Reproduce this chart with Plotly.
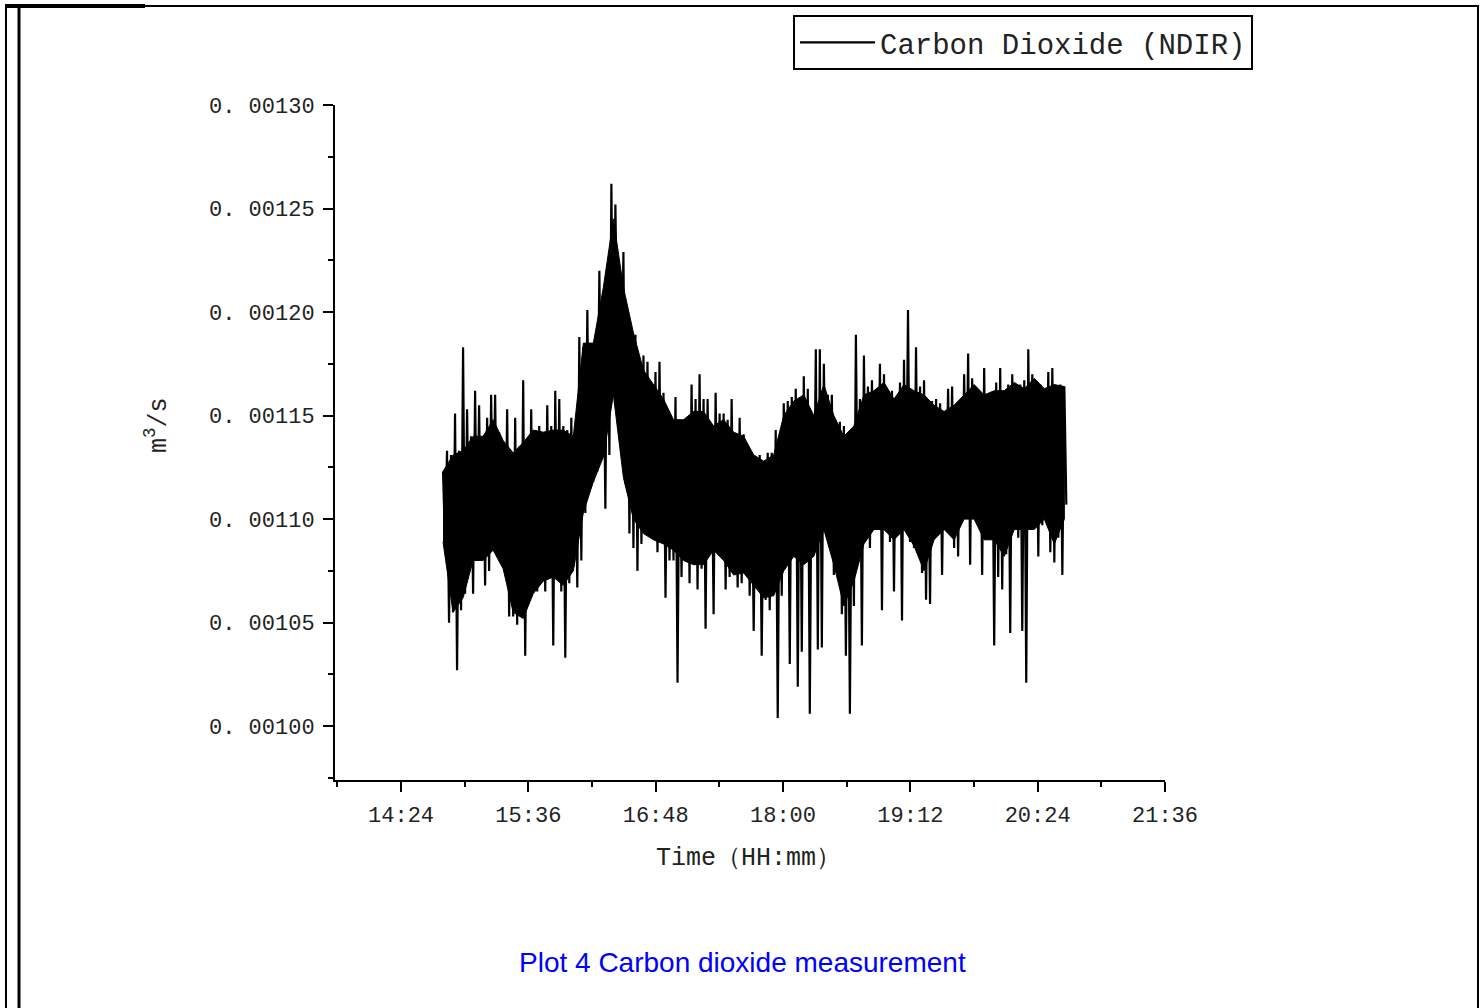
import datetime as dt
import plotly.graph_objects as go

# ---------------- data ----------------
# Upper / lower extremes of the oscillating CO2 flow signal, in 1e-6 m^3/s,
# one pair per sampling cycle, from 14:47:45 onward.
upper_e6 = [
    1123, 1133, 1131, 1151, 1133, 1183, 1153, 1140, 1162, 1155,
    1140, 1149, 1160, 1160, 1142, 1136, 1153, 1125, 1149, 1135,
    1167, 1138, 1153, 1139, 1145, 1135, 1155, 1145, 1162, 1158,
    1145, 1143, 1149, 1135, 1188, 1183, 1201, 1179, 1184, 1220,
    1196, 1222, 1262, 1252, 1219, 1229, 1199, 1188, 1189, 1170,
    1179, 1176, 1165, 1171, 1176, 1161, 1150, 1145, 1159, 1146,
    1148, 1148, 1165, 1158, 1170, 1158, 1158, 1142, 1161, 1151,
    1151, 1148, 1158, 1133, 1149, 1141, 1133, 1132, 1129, 1131,
    1127, 1132, 1132, 1143, 1138, 1156, 1157, 1159, 1163, 1159,
    1169, 1163, 1149, 1182, 1182, 1175, 1160, 1160, 1131, 1147,
    1145, 1139, 1139, 1189, 1158, 1179, 1164, 1167, 1160, 1175,
    1170, 1159, 1162, 1155, 1166, 1177, 1201, 1151, 1183, 1164,
    1167, 1142, 1157, 1158, 1156, 1150, 1163, 1164, 1154, 1149,
    1170, 1180, 1168, 1162, 1153, 1173, 1158, 1158, 1166, 1173,
    1161, 1165, 1170, 1164, 1165, 1167, 1182, 1170, 1165, 1165,
    1162, 1171, 1173, 1161, 1165, 1164,
]
lower_e6 = [
    1089, 1050, 1055, 1027, 1056, 1064, 1084, 1064, 1083, 1081,
    1068, 1075, 1094, 1082, 1079, 1074, 1053, 1053, 1049, 1053,
    1034, 1061, 1067, 1065, 1076, 1065, 1076, 1039, 1074, 1065,
    1033, 1069, 1077, 1067, 1080, 1103, 1115, 1118, 1123, 1133,
    1105, 1131, 1159, 1181, 1151, 1117, 1093, 1086, 1075, 1088,
    1095, 1095, 1094, 1084, 1090, 1062, 1080, 1080, 1021, 1072,
    1087, 1069, 1093, 1066, 1076, 1047, 1093, 1054, 1093, 1097,
    1066, 1072, 1081, 1067, 1069, 1078, 1063, 1046, 1074, 1034,
    1061, 1056, 1065, 1004, 1063, 1090, 1030, 1097, 1019, 1036,
    1080, 1006, 1090, 1037, 1038, 1112, 1103, 1073, 1080, 1054,
    1034, 1006, 1058, 1087, 1039, 1090, 1086, 1096, 1102, 1056,
    1094, 1089, 1065, 1096, 1051, 1097, 1089, 1086, 1085, 1074,
    1061, 1059, 1091, 1104, 1073, 1108, 1102, 1086, 1082, 1100,
    1104, 1078, 1116, 1109, 1073, 1090, 1102, 1039, 1072, 1066,
    1083, 1045, 1100, 1091, 1046, 1021, 1099, 1105, 1082, 1097,
    1108, 1084, 1079, 1091, 1073, 1107,
]
# Edges of the dense (solid black) part of the signal, in 1e-6 m^3/s,
# read every 5 samples from the same start time.
core_upper_e6 = [
    1123, 1131, 1133, 1140, 1140, 1148, 1138, 1132, 1137, 1143,
    1142, 1143, 1143, 1140, 1185, 1185, 1212, 1245, 1212, 1190,
    1172, 1165, 1158, 1148, 1148, 1152, 1152, 1145, 1148, 1142,
    1140, 1131, 1128, 1131, 1150, 1157, 1160, 1150, 1165, 1150,
    1140, 1145, 1160, 1162, 1166, 1158, 1165, 1162, 1160, 1155,
    1152, 1155, 1160, 1165, 1160, 1162, 1162, 1166, 1163, 1168,
    1163, 1165, 1164,
]
core_lower_e6 = [
    1089, 1055, 1062, 1080, 1080, 1085, 1076, 1055, 1052, 1064,
    1070, 1072, 1068, 1075, 1103, 1118, 1130, 1160, 1120, 1100,
    1093, 1090, 1088, 1085, 1080, 1078, 1078, 1085, 1080, 1073,
    1074, 1068, 1062, 1063, 1075, 1082, 1078, 1082, 1095, 1078,
    1058, 1070, 1088, 1095, 1095, 1090, 1095, 1087, 1075, 1090,
    1095, 1090, 1100, 1100, 1090, 1090, 1082, 1095, 1095, 1095,
    1100, 1088, 1100,
]
start_time = dt.datetime(2021, 1, 1, 14, 47, 45)
sample_seconds = 68
core_every = 5  # samples between core-edge readings

x_tick_text = ["14:24", "15:36", "16:48", "18:00", "19:12", "20:24", "21:36"]
y_tick_vals = [0.00100, 0.00105, 0.00110, 0.00115, 0.00120, 0.00125, 0.00130]
y_tick_text = ["0. 00100", "0. 00105", "0. 00110", "0. 00115",
               "0. 00120", "0. 00125", "0. 00130"]

series_name = "Carbon Dioxide (NDIR)"
x_title = "Time（HH:mm）"
y_title = "m<sup>3</sup>/s"
caption = "Plot 4 Carbon dioxide measurement"

# ---------------- build series ----------------
values, times = [], []
for k, (u, l) in enumerate(zip(upper_e6, lower_e6)):
    values += [u * 1e-6, l * 1e-6]
    times += [start_time + dt.timedelta(seconds=sample_seconds * (2 * k)),
              start_time + dt.timedelta(seconds=sample_seconds * (2 * k + 1))]

core_t = [start_time + dt.timedelta(seconds=sample_seconds * core_every * j)
          for j in range(len(core_upper_e6))]
band_x = core_t + core_t[::-1]
band_y = [v * 1e-6 for v in core_upper_e6] + [v * 1e-6 for v in core_lower_e6[::-1]]

W, H = 1483, 1008
L, R, T, B = 335, 1165, 105, 780  # plot area in pixels


def px(xp):
    return (xp - L) / (R - L)


def py(yp):
    return (B - yp) / (B - T)


fig = go.Figure()
# dense body of the signal
fig.add_trace(go.Scatter(
    x=band_x, y=band_y, mode="lines", fill="toself", fillcolor="black",
    line=dict(color="black", width=1), showlegend=False, hoverinfo="skip",
))
# the measured series itself
fig.add_trace(go.Scatter(
    x=times, y=values, mode="lines", name=series_name,
    line=dict(color="black", width=2.2, simplify=False),
))

mono = "Liberation Mono, DejaVu Sans Mono, monospace"
day = "2021-01-01 "
fig.update_layout(
    width=W, height=H,
    margin=dict(l=L, r=W - R, t=T, b=H - B, pad=0),
    paper_bgcolor="white", plot_bgcolor="white",
    showlegend=True,
    legend=dict(
        x=px(793), y=py(15), xanchor="left", yanchor="top",
        font=dict(family=mono, size=29, color="#222"),
        bordercolor="black", borderwidth=2, bgcolor="white",
        itemwidth=75, tracegroupgap=0,
    ),
    font=dict(family=mono, color="#222"),
)
fig.update_xaxes(
    type="date",
    range=[day + "13:46:40", day + "21:36:00"],
    tickmode="array",
    tickvals=[day + t for t in x_tick_text],
    ticktext=x_tick_text,
    ticks="outside", ticklen=10, tickwidth=2, tickcolor="black",
    tickfont=dict(family=mono, size=22, color="#222"),
    ticklabelstandoff=4,
    showline=True, linewidth=2, linecolor="black",
    showgrid=False, zeroline=False,
    minor=dict(ticks="outside", ticklen=5, tickwidth=2, tickcolor="black",
               tickmode="linear", tick0=day + "14:24", dtick=36 * 60 * 1000,
               showgrid=False),
)
fig.update_yaxes(
    range=[0.000974, 0.00130],
    tickmode="array", tickvals=y_tick_vals, ticktext=y_tick_text,
    ticks="outside", ticklen=10, tickwidth=2, tickcolor="black",
    tickfont=dict(family=mono, size=22, color="#222"),
    ticklabelstandoff=4,
    showline=True, linewidth=2, linecolor="black",
    showgrid=False, zeroline=False,
    minor=dict(ticks="outside", ticklen=5, tickwidth=2, tickcolor="black",
               tickmode="linear", tick0=0.001, dtick=0.000025, showgrid=False),
)

fig.add_annotation(text=x_title, xref="paper", yref="paper",
                   x=px(748), y=py(858), xanchor="center", yanchor="middle",
                   showarrow=False, font=dict(family=mono, size=25, color="#222"))
fig.add_annotation(text=y_title, xref="paper", yref="paper",
                   x=px(157), y=py(425), xanchor="center", yanchor="middle",
                   textangle=-90, showarrow=False,
                   font=dict(family=mono, size=25, color="#222"))
fig.add_annotation(text=caption, xref="paper", yref="paper",
                   x=px(742), y=py(962), xanchor="center", yanchor="middle",
                   showarrow=False,
                   font=dict(family="Liberation Sans, Arial, sans-serif", size=28, color="#0000FF"))

# page frame (document border)
frame = [
    ((5, 6), (1479, 6), 2),
    ((5, 6), (145, 6), 4),
    ((6, 5), (6, 1008), 2),
    ((19, 5), (19, 1008), 3),
    ((1478, 5), (1478, 1008), 2),
]
for (x0, y0), (x1, y1), w in frame:
    fig.add_shape(type="line", xref="paper", yref="paper",
                  x0=px(x0), y0=py(y0), x1=px(x1), y1=py(y1),
                  line=dict(color="black", width=w), layer="above")

fig.write_html("out.html")
